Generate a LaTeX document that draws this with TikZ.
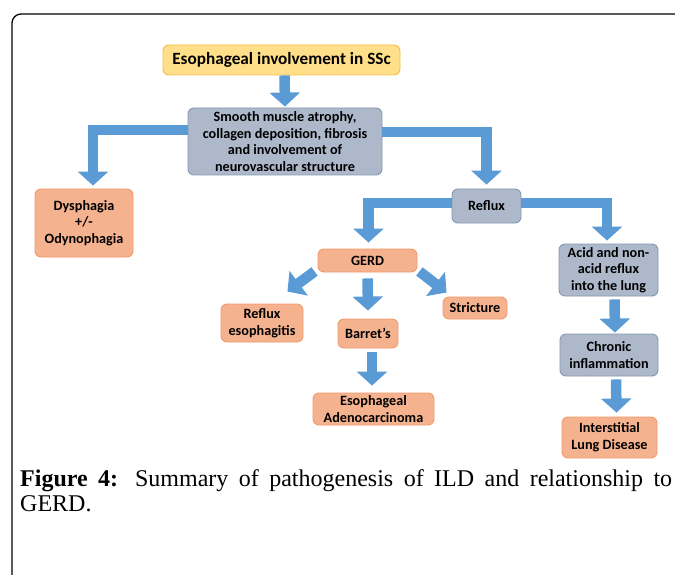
\documentclass[tikz,border=0pt]{standalone}
\usepackage{fontspec}
\setmainfont{Liberation Serif}
\newfontfamily\boxfont{Carlito}
\usepackage{tikz}
\usetikzlibrary{arrows.meta,positioning}

\definecolor{ArrowBlue}{HTML}{5B9BD5}
\definecolor{SalmonFill}{HTML}{F5B28F}
\definecolor{SalmonLine}{HTML}{F09A6C}
\definecolor{SlateFill}{HTML}{ADB9CA}
\definecolor{SlateLine}{HTML}{8497B0}
\definecolor{SunFill}{HTML}{FFDF8A}
\definecolor{SunLine}{HTML}{F5BD4B}

\begin{document}
\begin{tikzpicture}[x=1pt,y=-1pt]
				\tikzstyle{Box}		= [rounded corners=6pt, draw, line width=0.9pt, inner sep=0pt, align=center,
				                   font=\boxfont\bfseries\fontsize{14.2}{16.6}\selectfont]
				\tikzstyle{Salmon}	= [fill=SalmonFill, draw=SalmonLine]
				\tikzstyle{Slate}	= [fill=SlateFill, draw=SlateLine]
				\tikzstyle{Sun}		= [fill=SunFill, draw=SunLine, font=\boxfont\bfseries\fontsize{17.2}{20}\selectfont]
				\tikzstyle{Arrow}	= [draw=ArrowBlue, line width=10.5pt, line join=miter,
				                   -{Triangle[width=30pt,length=14pt]}]

				\useasboundingbox (0,0) rectangle (675,575);
				\draw [line width=1.3pt, rounded corners=9pt] (12,575) |- (675,14);

				\node (b0) at (281.5,60) [Box][Sun, minimum width=237pt, minimum height=30pt] {Esophageal involvement in SSc};
				\node (b1) at (285,141.5) [Box][Slate, minimum width=194pt, minimum height=67pt] {Smooth muscle atrophy,\\collagen deposition, fibrosis\\and involvement of\\neurovascular structure};
				\node (b2) at (84,223) [Box][Salmon, minimum width=98pt, minimum height=68pt] {Dysphagia\\+/-\\Odynophagia};
				\node (b3) at (486.5,206) [Box][Slate, minimum width=69pt, minimum height=34pt] {Reflux};
				\node (b4) at (367.5,260.5) [Box][Salmon, minimum width=99pt, minimum height=23pt] {GERD};
				\node (b5) at (608.5,270) [Box][Slate, minimum width=99pt, minimum height=52pt] {Acid and non-\\acid reflux\\into the lung};
				\node (b6) at (262,323) [Box][Salmon, minimum width=82pt, minimum height=38pt] {Reflux\\esophagitis};
				\node (b7) at (368,333.5) [Box][Salmon, minimum width=60pt, minimum height=29pt] {Barret’s};
				\node (b8) at (475,308) [Box][Salmon, minimum width=64pt, minimum height=22pt] {Stricture};
				\node (b9) at (373.5,409) [Box][Salmon, minimum width=121pt, minimum height=32pt] {Esophageal\\Adenocarcinoma};
				\node (b10) at (609,355) [Box][Slate, minimum width=98pt, minimum height=42pt] {Chronic\\inflammation};
				\node (b11) at (609.5,437.5) [Box][Salmon, minimum width=95pt, minimum height=41pt] {Interstitial\\Lung Disease};

				\draw [Arrow] ([xshift=3pt]b0.south) to ([yshift=1pt]b1.north);
				\draw [Arrow] ([yshift=11.5pt]b1.west) -| ([xshift=9pt,yshift=3pt]b2.north);
				\draw [Arrow] ([yshift=9.5pt]b1.east) -| ([yshift=4pt]b3.north);
				\draw [Arrow] ([yshift=3pt]b3.west) -| ([xshift=1pt,yshift=6pt]b4.north);
				\draw [Arrow] ([yshift=3pt]b3.east) -| ([xshift=-1.5pt,yshift=3pt]b5.north);
				\draw [Arrow] ([xshift=-3pt,yshift=1pt]b4.south west) to ([xshift=-16pt,yshift=12pt]b6.north east);
				\draw [Arrow] ([yshift=-6pt]b4.south) to ([yshift=8pt]b7.north);
				\draw [Arrow] ([xshift=2pt,yshift=1pt]b4.south east) to ([xshift=4pt,yshift=4pt]b8.north west);
				\draw [Arrow] ([xshift=4pt,yshift=-4pt]b7.south) to ([xshift=-1.5pt,yshift=7pt]b9.north);
				\draw [Arrow] ([xshift=6pt,yshift=-3pt]b5.south) to ([xshift=6pt,yshift=1pt]b10.north);
				\draw [Arrow] ([xshift=7pt,yshift=-3pt]b10.south) to ([xshift=7pt,yshift=4pt]b11.north);

				\node (cap) at (20,469) [anchor=north west, inner sep=0pt, text width=652pt, align=justify,
				                        font=\fontsize{24}{25}\selectfont]
				      {\textbf{Figure 4:} Summary of pathogenesis of ILD and relationship to\linebreak GERD.};
			\end{tikzpicture}
\end{document}
